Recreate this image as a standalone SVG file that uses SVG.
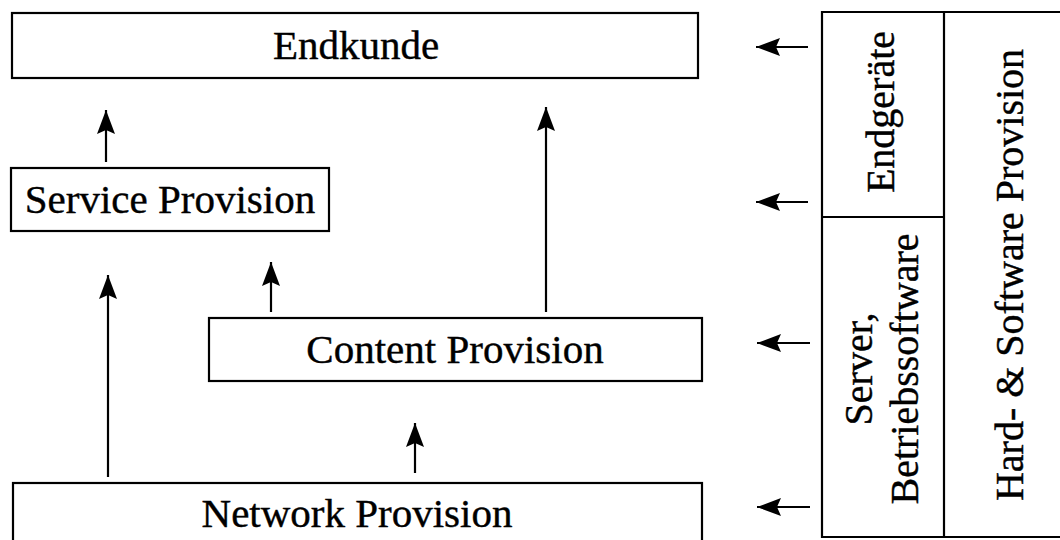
<svg xmlns="http://www.w3.org/2000/svg" width="1060" height="540" viewBox="0 0 1060 540">
<style>
.box{fill:#fff;stroke:#000;stroke-width:2.2}
.t{font-family:"Liberation Serif","Times New Roman",serif;font-size:41px;fill:#000;stroke:#000;stroke-width:0.4;text-anchor:middle}
.r{font-family:"Liberation Serif","Times New Roman",serif;font-size:40px;fill:#000;stroke:#000;stroke-width:0.4;text-anchor:middle}
.c{stroke:#000;stroke-width:2.2;fill:none;marker-end:url(#ah)}
.ln{stroke:#000;stroke-width:2.2;fill:none}
</style>
<defs>
<marker id="ah" markerUnits="userSpaceOnUse" viewBox="0 -9 24 18" markerWidth="24" markerHeight="18" refX="24" refY="0" orient="auto">
<path d="M0,-9 L24,0 L0,9 L4,0 z" fill="#000"/>
</marker>
</defs>
<rect width="1060" height="540" fill="#fff"/>
<g id="endkunde">
<rect class="box" x="12" y="13" width="686" height="65"/>
<text class="t" x="356" y="59">Endkunde</text>
</g>
<g id="service">
<rect class="box" x="11" y="168" width="318" height="63"/>
<text class="t" x="170" y="213">Service Provision</text>
</g>
<g id="content">
<rect class="box" x="209" y="318" width="493" height="63"/>
<text class="t" x="455" y="363">Content Provision</text>
</g>
<g id="network">
<rect class="box" x="13" y="483" width="689" height="70"/>
<text class="t" x="357" y="527">Network Provision</text>
</g>
<g id="panel">
<path class="ln" d="M1062,12 H822 V537 H1062"/>
<line class="ln" x1="944" y1="12" x2="944" y2="537" stroke-width="3"/>
<line class="ln" x1="822" y1="217" x2="944" y2="217"/>
<text class="r" transform="translate(894,112) rotate(-90)">Endgeräte</text>
<text class="r" transform="translate(872,369) rotate(-90)">Server,</text>
<text class="r" transform="translate(918,369) rotate(-90)">Betriebssoftware</text>
<text class="r" transform="translate(1023,275) rotate(-90)">Hard- &amp; Software Provision</text>
</g>
<g id="connectors">
<line class="c" x1="106" y1="162" x2="106" y2="110"/>
<line class="c" x1="546" y1="312" x2="546" y2="107"/>
<line class="c" x1="271" y1="312" x2="271" y2="262"/>
<line class="c" x1="108" y1="477" x2="108" y2="275"/>
<line class="c" x1="415" y1="473" x2="415" y2="423"/>
<line class="c" x1="808" y1="47" x2="756" y2="47"/>
<line class="c" x1="808" y1="202" x2="756" y2="202"/>
<line class="c" x1="810" y1="343" x2="757" y2="343"/>
<line class="c" x1="810" y1="507" x2="757" y2="507"/>
</g>
</svg>
